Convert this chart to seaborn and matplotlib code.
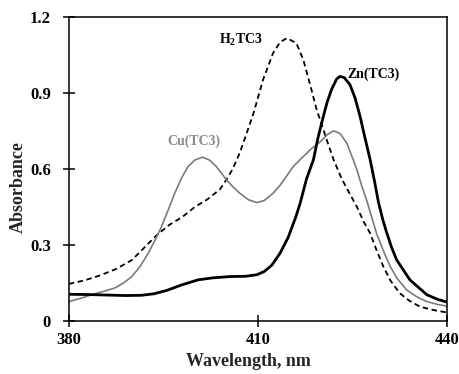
import numpy as np
import pandas as pd
import matplotlib
matplotlib.use("Agg")
import matplotlib.pyplot as plt
import seaborn as sns

# values (wavelength nm, absorbance)
h2_wl = [380, 382.5, 385, 387.5, 390, 392, 394, 396, 398, 400, 402, 404, 405, 406,
         407.1, 408.2, 409.3, 410.8, 412.4, 413.5, 414.6, 416.1, 417.2, 418.3, 419.3,
         420.9, 422, 423.3, 424.6, 425.7, 426.8, 427.8, 428.8, 429.9, 431, 432.5, 434,
         435.7, 437.8, 440]
h2_abs = [0.146, 0.16, 0.18, 0.205, 0.24, 0.29, 0.34, 0.38, 0.41, 0.45, 0.48, 0.52, 0.557, 0.60,
          0.662, 0.74, 0.82, 0.951, 1.057, 1.10, 1.116, 1.096, 1.03, 0.93, 0.835,
          0.715, 0.636, 0.56, 0.50, 0.45, 0.39, 0.346, 0.28, 0.214, 0.16, 0.109, 0.08,
          0.056, 0.043, 0.033]

zn_wl = [380, 383, 386, 389, 391.5, 393.5, 395.5, 397.9, 400.5, 402.9, 405.6, 408, 409.8,
         411, 412.2, 413.5, 414.8, 416, 416.7, 417.7, 418.8, 419.5, 420.4, 421, 421.7,
         422.5, 423, 423.7, 424.6, 425.4, 426.2, 427, 427.8, 428.5, 429.1, 429.8, 430.4,
         431.2, 432, 434.1, 436.8, 438.5, 440]
zn_abs = [0.105, 0.104, 0.102, 0.100, 0.101, 0.107, 0.120, 0.142, 0.162, 0.170, 0.175, 0.176, 0.182,
          0.195, 0.22, 0.267, 0.33, 0.41, 0.465, 0.56, 0.636, 0.72, 0.81, 0.865, 0.915,
          0.955, 0.965, 0.96, 0.932, 0.88, 0.807, 0.72, 0.636, 0.55, 0.47, 0.40, 0.35,
          0.29, 0.241, 0.162, 0.103, 0.085, 0.074]

cu_wl = [380, 382, 384.1, 386, 387.3, 388.7, 390, 391.3, 392.6, 393.7, 394.7, 395.8, 396.8,
         397.9, 398.9, 400, 401.2, 402.3, 403.4, 404.3, 405, 406, 407.1, 408.5, 409.8,
         411, 412.4, 413.5, 414.5, 415.6, 417.2, 418.5, 419.8, 421, 422, 423, 424.1,
         424.9, 425.7, 426.5, 427.3, 428.8, 430, 431, 432, 433.6, 435.2, 436.8, 438.5, 440]
cu_abs = [0.076, 0.09, 0.107, 0.12, 0.13, 0.15, 0.175, 0.215, 0.267, 0.32, 0.372, 0.44, 0.504,
          0.565, 0.609, 0.635, 0.646, 0.635, 0.609, 0.58, 0.557, 0.53, 0.504, 0.478, 0.467,
          0.475, 0.504, 0.535, 0.57, 0.609, 0.649, 0.68, 0.705, 0.735, 0.75, 0.74, 0.701,
          0.65, 0.596, 0.53, 0.472, 0.346, 0.27, 0.214, 0.17, 0.122, 0.095, 0.076, 0.065, 0.058]

x_ticks = [380, 410, 440]
y_ticks = [0, 0.3, 0.6, 0.9, 1.2]
y_tick_labels = ["0", "0.3", "0.6", "0.9", "1.2"]

sns.set_theme(style="ticks")
plt.rcParams["font.family"] = ["Liberation Serif", "DejaVu Serif"]
plt.rcParams["font.weight"] = "bold"
plt.rcParams["mathtext.fontset"] = "custom"
plt.rcParams["mathtext.rm"] = "Liberation Serif:bold"
plt.rcParams["mathtext.bf"] = "Liberation Serif:bold"

fig = plt.figure(figsize=(4.59, 3.74), dpi=100)
ax = fig.add_axes([0.150, 0.142, 0.824, 0.813])

sns.lineplot(x=h2_wl, y=h2_abs, ax=ax, color="black", linewidth=1.3,
             linestyle=(0, (3, 2)), sort=False)
sns.lineplot(x=cu_wl, y=cu_abs, ax=ax, color="#7a7a7a", linewidth=1.2, sort=False)
sns.lineplot(x=zn_wl, y=zn_abs, ax=ax, color="black", linewidth=2.0, sort=False)

ax.text(407.3, 1.11, "H$_\\mathrm{2}$TC3", ha="center", va="center",
        fontsize=10, fontweight="bold", color="black")
ax.text(428.4, 0.975, "Zn(TC3)", ha="center", va="center",
        fontsize=10, fontweight="bold", color="black")
ax.text(399.8, 0.71, "Cu(TC3)", ha="center", va="center",
        fontsize=10, fontweight="bold", color="#8a8a8a")

ax.set_xlim(380, 440)
ax.set_ylim(0, 1.2)
ax.set_xticks(x_ticks)
ax.set_yticks(y_ticks)
ax.set_yticklabels(y_tick_labels)
ax.tick_params(direction="inout", length=8, width=1.1, labelsize=12, colors="black")
ax.tick_params(axis="x", pad=4)
ax.tick_params(axis="y", pad=9)
for lab in ax.get_xticklabels() + ax.get_yticklabels():
    lab.set_fontweight("bold")
for sp in ax.spines.values():
    sp.set_visible(True)
    sp.set_linewidth(1.1)
    sp.set_color("black")

ax.set_xlabel("Wavelength, nm", fontsize=13, fontweight="bold")
ax.set_ylabel("Absorbance", fontsize=13, fontweight="bold")
ax.xaxis.set_label_coords(0.476, -0.105)
ax.yaxis.set_label_coords(-0.11, 0.44)

fig.savefig("out.png", dpi=100)
